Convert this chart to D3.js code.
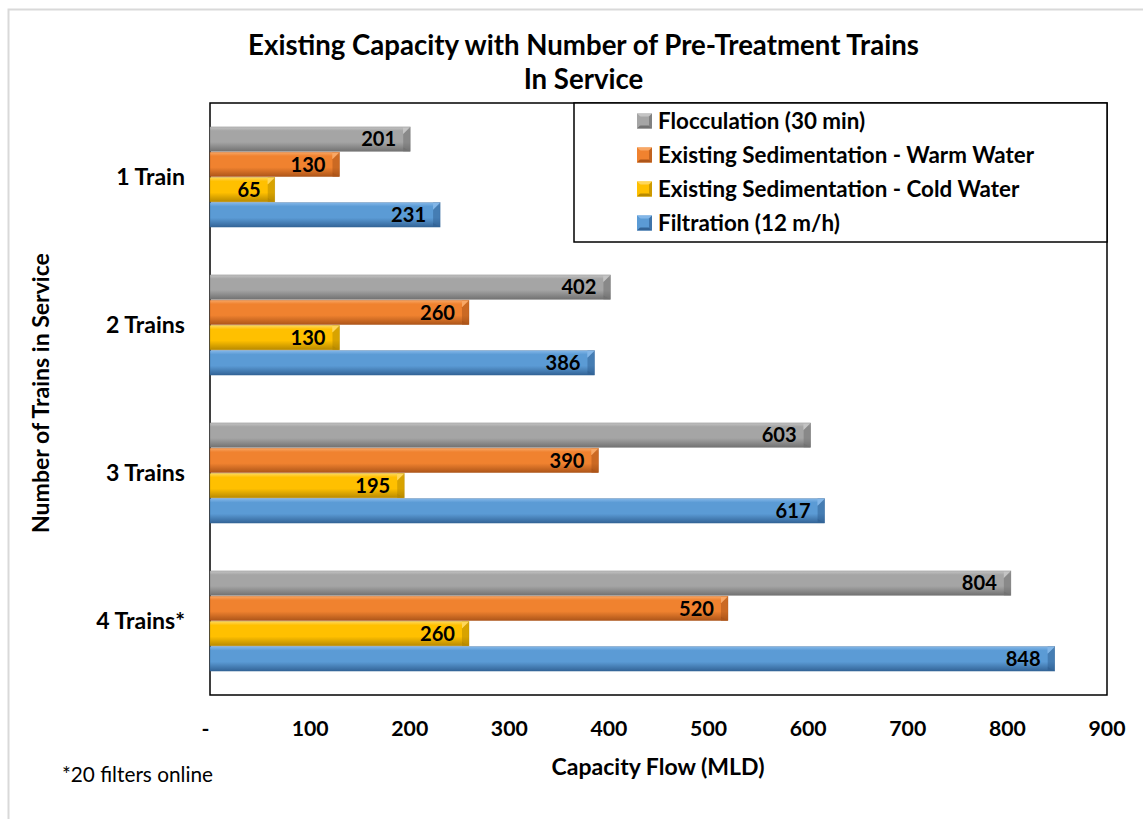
<!DOCTYPE html>
<html><head><meta charset="utf-8">
<script src="https://cdn.jsdelivr.net/npm/d3@7"></script>
<style>
html,body{margin:0;padding:0;background:#fff;}
text{font-family:Lato,"Open Sans",sans-serif;fill:#000;}
</style></head>
<body><svg id="c" width="1143" height="819"></svg>
<script>
const categories = ["1 Train", "2 Trains", "3 Trains", "4 Trains*"];
const seriesNames = ["Flocculation (30 min)", "Existing Sedimentation - Warm Water", "Existing Sedimentation - Cold Water", "Filtration (12 m/h)"];
const flocculation = [201, 402, 603, 804];
const sedWarm = [130, 260, 390, 520];
const sedCold = [65, 130, 195, 260];
const filtration = [231, 386, 617, 848];
const tickValues = [0, 100, 200, 300, 400, 500, 600, 700, 800, 900];
const tickLabels = ["-", "100", "200", "300", "400", "500", "600", "700", "800", "900"];
const titleLines = ["Existing Capacity with Number of Pre-Treatment Trains", "In Service"];
const xTitle = "Capacity Flow (MLD)";
const yTitle = "Number of Trains in Service";
const note = "*20 filters online";

const seriesValues = [flocculation, sedWarm, sedCold, filtration];
const palette = [
  {base:"#a5a5a5", light:"#c4c4c4", dark:"#727272"},
  {base:"#f0822f", light:"#f8a765", dark:"#ad5519"},
  {base:"#ffc000", light:"#ffd75a", dark:"#b88a00"},
  {base:"#5b9bd5", light:"#82b6e8", dark:"#336497"}
];

const svg = d3.select("#c");
const defs = svg.append("defs");
palette.forEach((p,i)=>{
  const g = defs.append("linearGradient").attr("id","g"+i).attr("x1",0).attr("y1",0).attr("x2",0).attr("y2",1);
  g.append("stop").attr("offset","0").attr("stop-color",p.light);
  g.append("stop").attr("offset","0.16").attr("stop-color",p.base);
  g.append("stop").attr("offset","0.62").attr("stop-color",p.base);
  g.append("stop").attr("offset","1").attr("stop-color",p.dark);
});

function fit(sel, target){
  sel.each(function(){
    const n = this; let fs = parseFloat(n.getAttribute("font-size"));
    const w = n.getComputedTextLength();
    if (w>0){ n.setAttribute("font-size", (fs*target/w).toFixed(2)); }
  });
  return parseFloat(sel.attr("font-size"));
}

// outer border
svg.append("rect").attr("x",8.5).attr("y",9.5).attr("width",1150).attr("height",830)
  .attr("fill","none").attr("stroke","#d9d9d9").attr("stroke-width",2);

const plot = {x0:210, x1:1107, y0:103, y1:695};
const x = d3.scaleLinear().domain([0,900]).range([plot.x0, plot.x1 - 0.5]);
const y = d3.scaleBand().domain(categories).range([plot.y0, plot.y1]).paddingInner(0.318).paddingOuter(0.159);
const ys = d3.scaleBand().domain(d3.range(4)).range([0, y.bandwidth()]);

// title
const t1 = svg.append("text").attr("x",583.5).attr("y",55).attr("text-anchor","middle")
  .attr("font-weight","bold").attr("font-size",24).text(titleLines[0]);
const tfs = fit(t1, 671);
svg.append("text").attr("x",583.5).attr("y",89).attr("text-anchor","middle")
  .attr("font-weight","bold").attr("font-size",tfs).text(titleLines[1]);

// plot border
svg.append("rect").attr("x",plot.x0).attr("y",plot.y0).attr("width",plot.x1-plot.x0).attr("height",plot.y1-plot.y0)
  .attr("fill","none").attr("stroke","#000").attr("stroke-width",1.5);

// bars
const bars = svg.append("g");
categories.forEach((c,ci)=>{
  seriesValues.forEach((vals,si)=>{
    const v = vals[ci];
    const X0 = x(0), X1 = x(v);
    const Y0 = y(c) + ys(si) + 0.4, Y1 = y(c) + ys(si) + ys.bandwidth() - 0.4;
    const p = palette[si];
    const g = bars.append("g");
    g.append("rect").attr("x",X0).attr("y",Y0).attr("width",X1-X0).attr("height",Y1-Y0).attr("fill","url(#g"+si+")");
    const b = 7;
    // right bevel facets
    g.append("polygon").attr("points",[[X1-b,Y0],[X1,Y0],[X1,Y0+0.1],[X1-b,Y0+b]].join(" ")).attr("fill",p.light);
    g.append("polygon").attr("points",[[X1-b,Y0],[X1,Y0],[X1-b,Y0+b]].join(" ")).attr("fill",p.light).attr("opacity",0.9);
    g.append("polygon").attr("points",[[X1,Y0],[X1,Y1],[X1-b,Y1-b*0.6],[X1-b,Y0+b]].join(" ")).attr("fill",p.dark).attr("opacity",0.55);
    g.append("polygon").attr("points",[[X1,Y1],[X1-b,Y1],[X1-b,Y1-b*0.6]].join(" ")).attr("fill",p.dark);
    g.append("rect").attr("x",X0).attr("y",Y0).attr("width",X1-X0).attr("height",Y1-Y0)
      .attr("fill","none").attr("stroke",p.dark).attr("stroke-width",0.6).attr("stroke-opacity",0.6);
  });
});

// bar labels
const lab = svg.append("g");
const probe = lab.append("text").attr("font-weight","bold").attr("font-size",22).text("201");
const lfs = fit(probe, 35); probe.remove();
categories.forEach((c,ci)=>{
  seriesValues.forEach((vals,si)=>{
    const v = vals[ci];
    lab.append("text").attr("x",x(v)-14).attr("y",y(c)+ys(si)+ys.bandwidth()/2)
      .attr("dy","0.36em").attr("text-anchor","end").attr("font-weight","bold").attr("font-size",lfs).text(v);
  });
});

// x axis tick labels
const axis = d3.axisBottom(x).tickValues(tickValues).tickSize(0).tickFormat((d,i)=>tickLabels[i]);
const ax = svg.append("g").attr("transform",`translate(0,${plot.y1})`).call(axis);
ax.select(".domain").remove();
const xprobe = svg.append("text").attr("font-weight","bold").attr("font-size",22).text("100");
const xfs = fit(xprobe, 37); xprobe.remove();
ax.selectAll(".tick text").attr("font-family","Lato,'Open Sans',sans-serif").attr("font-weight","bold")
  .attr("font-size",xfs).attr("fill","#000").attr("y",0).attr("dy",0)
  .attr("transform","translate(0,41)");
ax.selectAll(".tick").filter(d=>d===0).select("text").attr("dx",-5);

// category labels
const cprobe = svg.append("text").attr("font-weight","bold").attr("font-size",20).text("2 Trains");
const cfs = fit(cprobe, 79); cprobe.remove();
const yAxis = d3.axisLeft(y).tickSize(0).tickPadding(0);
const ay = svg.append("g").attr("transform",`translate(185,0)`).call(yAxis);
ay.select(".domain").remove();
ay.selectAll(".tick text").attr("font-family","Lato,'Open Sans',sans-serif").attr("font-weight","bold")
  .attr("font-size",cfs).attr("fill","#000").attr("x",0).attr("dy","0.35em");

// axis titles
const xt = svg.append("text").attr("x",658).attr("y",775).attr("text-anchor","middle")
  .attr("font-weight","bold").attr("font-size",20).text(xTitle);
fit(xt, 213);
const yt = svg.append("text").attr("transform","translate(49,393) rotate(-90)").attr("text-anchor","middle")
  .attr("font-weight","bold").attr("font-size",20).text(yTitle);
fit(yt, 280);

// note
const nt = svg.append("text").attr("x",62).attr("y",782).attr("font-size",18).text(note);
fit(nt, 151);

// legend
const lg = svg.append("g");
lg.append("rect").attr("x",574).attr("y",103).attr("width",533).attr("height",139)
  .attr("fill","#fff").attr("stroke","#000").attr("stroke-width",1.5);
const legY = d3.scalePoint().domain(d3.range(4)).range([121, 223]);
const lprobe = lg.append("text").attr("font-weight","bold").attr("font-size",20).text(seriesNames[1]);
const legfs = fit(lprobe, 376); lprobe.remove();
seriesNames.forEach((n,i)=>{
  const cy = legY(i), p = palette[i], s = 15, mx = 637, my = cy - s/2;
  lg.append("rect").attr("x",mx).attr("y",my).attr("width",s).attr("height",s).attr("fill",p.base);
  lg.append("polygon").attr("points",[[mx,my],[mx+s,my],[mx+s/2,my+s/2]].join(" ")).attr("fill",p.light);
  lg.append("polygon").attr("points",[[mx,my],[mx,my+s],[mx+s/2,my+s/2]].join(" ")).attr("fill",p.base);
  lg.append("polygon").attr("points",[[mx+s,my],[mx+s,my+s],[mx+s/2,my+s/2]].join(" ")).attr("fill",p.dark).attr("opacity",0.7);
  lg.append("polygon").attr("points",[[mx,my+s],[mx+s,my+s],[mx+s/2,my+s/2]].join(" ")).attr("fill",p.dark);
  lg.append("rect").attr("x",mx+3).attr("y",my+3).attr("width",s-6).attr("height",s-6).attr("fill",p.base);
  lg.append("text").attr("x",658).attr("y",cy).attr("dy","0.36em").attr("font-weight","bold")
    .attr("font-size",legfs).text(n);
});
</script></body></html>
